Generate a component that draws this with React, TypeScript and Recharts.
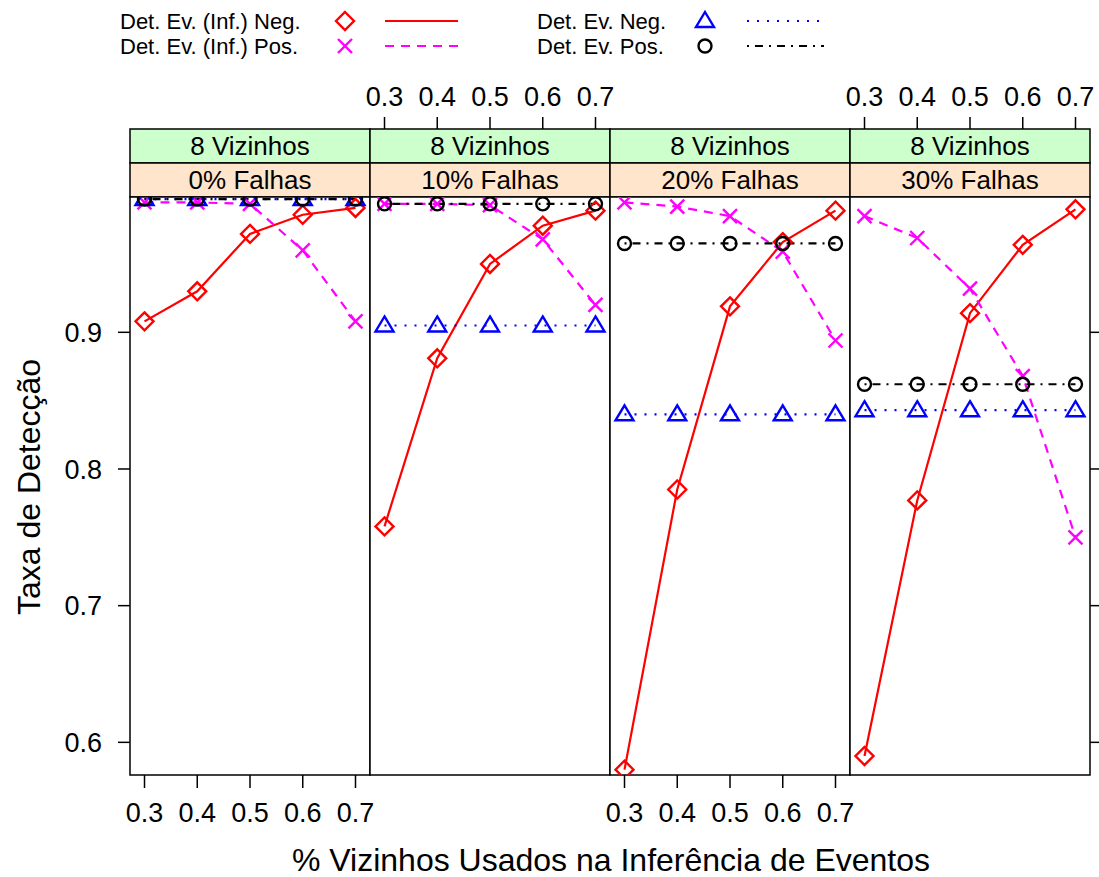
import React from 'react';
import { ComposedChart, Line, XAxis, YAxis } from 'recharts';

// x positions shared by all panels
const xValues = [0.3, 0.4, 0.5, 0.6, 0.7];
const yTicks = [0.6, 0.7, 0.8, 0.9];
const stripOuter = '8 Vizinhos';
const stripInner = ['0% Falhas', '10% Falhas', '20% Falhas', '30% Falhas'];

// one row per panel (0%, 10%, 20%, 30% falhas)
const infNeg = [
  [0.908, 0.930, 0.972, 0.986, 0.991],
  [0.758, 0.881, 0.950, 0.978, 0.989],
  [0.580, 0.785, 0.919, 0.966, 0.989],
  [0.590, 0.777, 0.914, 0.964, 0.990],
];
const infPos = [
  [0.995, 0.995, 0.994, 0.960, 0.908],
  [0.994, 0.994, 0.993, 0.968, 0.920],
  [0.995, 0.992, 0.985, 0.959, 0.894],
  [0.985, 0.969, 0.932, 0.868, 0.750],
];
const evNeg = [
  [0.9975, 0.9975, 0.9975, 0.9975, 0.9975],
  [0.905, 0.905, 0.905, 0.905, 0.905],
  [0.840, 0.840, 0.840, 0.840, 0.840],
  [0.843, 0.843, 0.843, 0.843, 0.843],
];
const evPos = [
  [0.9975, 0.9975, 0.9975, 0.9975, 0.9975],
  [0.994, 0.994, 0.994, 0.994, 0.994],
  [0.965, 0.965, 0.965, 0.965, 0.965],
  [0.862, 0.862, 0.862, 0.862, 0.862],
];

const FONT = '"Liberation Sans", Arial, Helvetica, sans-serif';
const PANEL_W = 240;
const PLOT_TOP = 197;
const PLOT_BOTTOM = 775;
const FIRST_LEFT = 130;
const TOP_AXIS_H = 130;
const BOTTOM_AXIS_H = 60;
const LEFT_AXIS_W = 90;
const RIGHT_AXIS_W = 12;
const X_DOMAIN: [number, number] = [0.2725, 0.7275];
const Y_DOMAIN: [number, number] = [0.5761, 0.999];
const MARK_W = 2.4;

const Diamond = ({ cx, cy, color }: any) => (
  <path d={`M${cx},${cy - 9}L${cx + 9},${cy}L${cx},${cy + 9}L${cx - 9},${cy}Z`} fill="none" stroke={color} strokeWidth={MARK_W} />
);
const Cross = ({ cx, cy, color }: any) => (
  <g stroke={color} strokeWidth={MARK_W}>
    <line x1={cx - 7} y1={cy - 7} x2={cx + 7} y2={cy + 7} />
    <line x1={cx - 7} y1={cy + 7} x2={cx + 7} y2={cy - 7} />
  </g>
);
const Triangle = ({ cx, cy, color }: any) => (
  <path d={`M${cx},${cy - 9}L${cx + 9},${cy + 6}L${cx - 9},${cy + 6}Z`} fill="none" stroke={color} strokeWidth={MARK_W} />
);
const Circle = ({ cx, cy, color }: any) => (
  <circle cx={cx} cy={cy} r={6.5} fill="none" stroke={color} strokeWidth={MARK_W} />
);

const series = [
  { key: 'infNeg', name: 'Det. Ev. (Inf.) Neg.', color: '#ff0000', dash: undefined, Shape: Diamond },
  { key: 'infPos', name: 'Det. Ev. (Inf.) Pos.', color: '#ff00ff', dash: '9 7', Shape: Cross },
  { key: 'evNeg', name: 'Det. Ev. Neg.', color: '#0000ff', dash: '2 8', Shape: Triangle },
  { key: 'evPos', name: 'Det. Ev. Pos.', color: '#000000', dash: '2 6 8 6', Shape: Circle },
];

const TopTick = ({ x, payload }: any) => (
  <g>
    <line x1={x} x2={x} y1={TOP_AXIS_H - 80} y2={TOP_AXIS_H - 68} stroke="#000" strokeWidth={1.5} />
    <text x={x} y={TOP_AXIS_H - 91.5} textAnchor="middle" fontSize={27} fontFamily={FONT} fill="#000">
      {payload.value}
    </text>
  </g>
);

function Panel({ index }: { index: number }) {
  const data = xValues.map((x, i) => ({
    x,
    infNeg: infNeg[index][i],
    infPos: infPos[index][i],
    evNeg: evNeg[index][i],
    evPos: evPos[index][i],
  }));
  const showBottom = index % 2 === 0;
  const showTop = index % 2 === 1;
  const showLeft = index === 0;
  const showRight = index === 3;
  const left = FIRST_LEFT + PANEL_W * index - LEFT_AXIS_W;
  const top = PLOT_TOP - TOP_AXIS_H;
  const width = LEFT_AXIS_W + PANEL_W + RIGHT_AXIS_W;
  const height = TOP_AXIS_H + (PLOT_BOTTOM - PLOT_TOP) + BOTTOM_AXIS_H;

  return (
    <div style={{ position: 'absolute', left, top }}>
      <ComposedChart width={width} height={height} data={data} margin={{ top: 0, right: 0, bottom: 0, left: 0 }}>
        <XAxis
          xAxisId="top"
          orientation="top"
          dataKey="x"
          type="number"
          domain={X_DOMAIN}
          ticks={xValues}
          height={TOP_AXIS_H}
          axisLine={false}
          tickLine={false}
          tick={showTop ? <TopTick /> : false}
          allowDataOverflow
        />
        <XAxis
          xAxisId="bottom"
          dataKey="x"
          type="number"
          domain={X_DOMAIN}
          ticks={xValues}
          height={BOTTOM_AXIS_H}
          axisLine={false}
          tickLine={showBottom ? { stroke: '#000', strokeWidth: 1.5 } : false}
          tickSize={13}
          tickMargin={15}
          tick={showBottom ? { fill: '#000', fontSize: 27, fontFamily: FONT } : false}
          allowDataOverflow
        />
        <YAxis
          yAxisId="left"
          type="number"
          domain={Y_DOMAIN}
          ticks={yTicks}
          width={LEFT_AXIS_W}
          axisLine={false}
          tickLine={showLeft ? { stroke: '#000', strokeWidth: 1.5 } : false}
          tickSize={12}
          tickMargin={16}
          tick={showLeft ? { fill: '#000', fontSize: 27, fontFamily: FONT } : false}
          allowDataOverflow
        />
        <YAxis
          yAxisId="right"
          orientation="right"
          type="number"
          domain={Y_DOMAIN}
          ticks={yTicks}
          width={RIGHT_AXIS_W}
          axisLine={false}
          tickLine={showRight ? { stroke: '#000', strokeWidth: 1.5 } : false}
          tickSize={10}
          tickFormatter={() => ''}
          tick={showRight ? { fill: 'none' } : false}
          allowDataOverflow
        />
        {series.map((s) => (
          <Line
            key={s.key}
            xAxisId="bottom"
            yAxisId="left"
            dataKey={s.key}
            type="linear"
            stroke={s.color}
            strokeWidth={2.2}
            strokeDasharray={s.dash}
            isAnimationActive={false}
            activeDot={false}
            dot={(p: any) => <s.Shape key={`${s.key}-${p.index}`} cx={p.cx} cy={p.cy} color={s.color} />}
          />
        ))}
      </ComposedChart>
    </div>
  );
}

function Frames() {
  const legendRows = [
    { s: series[0], x: 120, y: 21, mark: 225, l1: 265, l2: 338 },
    { s: series[1], x: 120, y: 46, mark: 225, l1: 265, l2: 338 },
    { s: series[2], x: 537, y: 21, mark: 168, l1: 210, l2: 287 },
    { s: series[3], x: 537, y: 46, mark: 168, l1: 210, l2: 287 },
  ];
  return (
    <svg width={1099} height={877} style={{ position: 'absolute', left: 0, top: 0 }}>
      {stripInner.map((label, i) => {
        const x0 = FIRST_LEFT + PANEL_W * i;
        return (
          <g key={label}>
            <rect x={x0} y={129} width={PANEL_W} height={34} fill="#ccffcc" stroke="#000" strokeWidth={1.5} />
            <rect x={x0} y={163} width={PANEL_W} height={34} fill="#ffe5cc" stroke="#000" strokeWidth={1.5} />
            <rect x={x0} y={PLOT_TOP} width={PANEL_W} height={PLOT_BOTTOM - PLOT_TOP} fill="#fff" stroke="#000" strokeWidth={1.5} />
            <text x={x0 + PANEL_W / 2} y={146} textAnchor="middle" dominantBaseline="central" fontSize={26} fontFamily={FONT}>
              {stripOuter}
            </text>
            <text x={x0 + PANEL_W / 2} y={180} textAnchor="middle" dominantBaseline="central" fontSize={26} fontFamily={FONT}>
              {label}
            </text>
          </g>
        );
      })}
      <text
        transform="translate(29,487) rotate(-90)"
        textAnchor="middle"
        dominantBaseline="central"
        fontSize={32}
        fontFamily={FONT}
      >
        Taxa de Detecção
      </text>
      <text x={611} y={860} textAnchor="middle" dominantBaseline="central" fontSize={32} fontFamily={FONT}>
        % Vizinhos Usados na Inferência de Eventos
      </text>
      {legendRows.map(({ s, x, y, mark, l1, l2 }) => (
        <g key={s.key}>
          <text x={x} y={y} dominantBaseline="central" fontSize={22} fontFamily={FONT}>
            {s.name}
          </text>
          <s.Shape cx={x + mark} cy={y} color={s.color} />
          <line x1={x + l1} x2={x + l2} y1={y} y2={y} stroke={s.color} strokeWidth={2.2} strokeDasharray={s.dash} />
        </g>
      ))}
    </svg>
  );
}

export default function App() {
  return (
    <div style={{ position: 'absolute', left: 0, top: 0, width: 1099, height: 877, background: '#fff', fontFamily: FONT }}>
      <Frames />
      {stripInner.map((_, i) => (
        <Panel key={i} index={i} />
      ))}
    </div>
  );
}
